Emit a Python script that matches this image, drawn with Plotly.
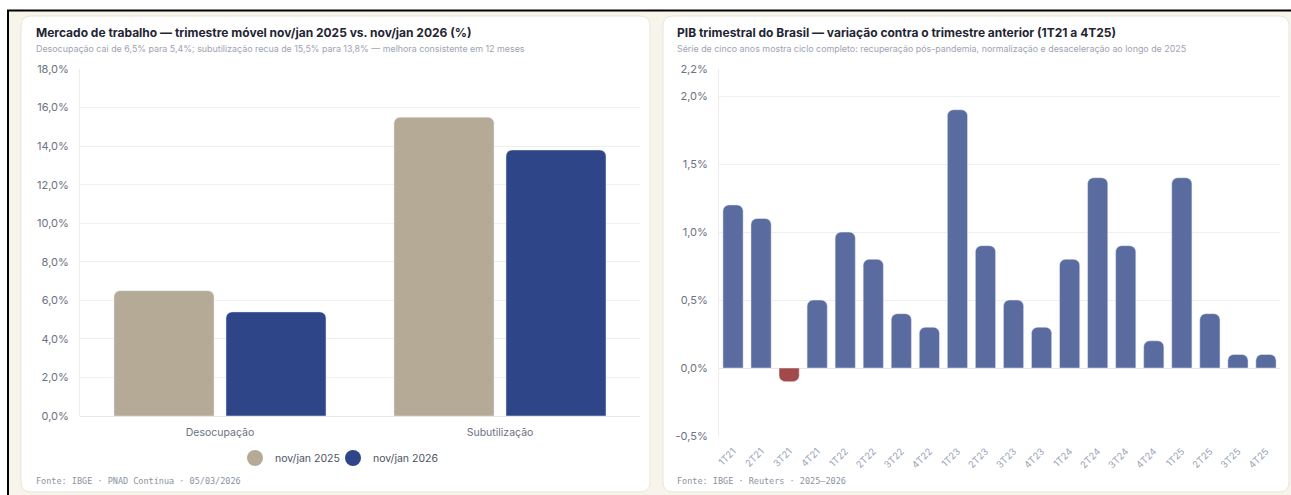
import plotly.graph_objects as go

W, H = 1291, 495

# Mercado de trabalho (%)
categorias = ["Desocupação", "Subutilização"]
nov_jan_2025 = [6.5, 15.5]
nov_jan_2026 = [5.4, 13.8]

# PIB trimestral, variação t/t-1 (%)
trimestres = ["1T21", "2T21", "3T21", "4T21", "1T22", "2T22", "3T22", "4T22",
              "1T23", "2T23", "3T23", "4T23", "1T24", "2T24", "3T24", "4T24",
              "1T25", "2T25", "3T25", "4T25"]
pib_var = [1.2, 1.1, -0.1, 0.5, 1.0, 0.8, 0.4, 0.3,
           1.9, 0.9, 0.5, 0.3, 0.8, 1.4, 0.9, 0.2,
           1.4, 0.4, 0.1, 0.1]
pib_tickvals = [-0.5, 0.0, 0.5, 1.0, 1.5, 2.0, 2.2]
pib_ticktext = ["-0,5%", "0,0%", "0,5%", "1,0%", "1,5%", "2,0%", "2,2%"]

TAN = "#b5aa96"
NAVY = "#2e4587"
NAVY_SOFT = "#5a6ba0"
RED = "#a24a4a"
CREAM = "#f7f4ec"
GRID = "#efefef"
TICK = "#6b7280"
FONT = "Inter, Roboto, sans-serif"
MONO = "DejaVu Sans Mono, monospace"


def px(x):
    """Screen x (px) to paper fraction."""
    return x / W


def py(y):
    """Screen y (px, from top) to paper fraction."""
    return 1 - y / H


def rounded_rect(x0, y0, x1, y1, r):
    return (f"M {px(x0 + r)},{py(y0)} L {px(x1 - r)},{py(y0)} "
            f"Q {px(x1)},{py(y0)} {px(x1)},{py(y0 + r)} "
            f"L {px(x1)},{py(y1 - r)} Q {px(x1)},{py(y1)} {px(x1 - r)},{py(y1)} "
            f"L {px(x0 + r)},{py(y1)} Q {px(x0)},{py(y1)} {px(x0)},{py(y1 - r)} "
            f"L {px(x0)},{py(y0 + r)} Q {px(x0)},{py(y0)} {px(x0 + r)},{py(y0)} Z")


fig = go.Figure()

fig.add_trace(go.Bar(x=categorias, y=nov_jan_2025, marker_color=TAN,
                     name="nov/jan 2025", showlegend=False,
                     xaxis="x", yaxis="y"))
fig.add_trace(go.Bar(x=categorias, y=nov_jan_2026, marker_color=NAVY,
                     name="nov/jan 2026", showlegend=False,
                     xaxis="x", yaxis="y"))
# circular legend markers, one legend box each so they sit close together
fig.add_trace(go.Scatter(x=[None], y=[None], mode="markers",
                         marker=dict(color=TAN, size=16, symbol="circle"),
                         name="nov/jan 2025", legend="legend",
                         xaxis="x", yaxis="y"))
fig.add_trace(go.Scatter(x=[None], y=[None], mode="markers",
                         marker=dict(color=NAVY, size=16, symbol="circle"),
                         name="nov/jan 2026", legend="legend2",
                         xaxis="x", yaxis="y"))

fig.add_trace(go.Bar(x=trimestres, y=pib_var, width=0.72,
                     marker_color=[RED if v < 0 else NAVY_SOFT for v in pib_var],
                     showlegend=False, xaxis="x2", yaxis="y2"))

shapes = [
    dict(type="rect", xref="paper", yref="paper", x0=px(8), x1=1, y0=0, y1=py(11),
         fillcolor=CREAM, line_width=0, layer="below"),
    dict(type="path", xref="paper", yref="paper", path=rounded_rect(21, 16, 650, 492, 10),
         fillcolor="white", line=dict(color="#ebe5d6", width=1), layer="below"),
    dict(type="path", xref="paper", yref="paper", path=rounded_rect(663, 16, 1289, 492, 10),
         fillcolor="white", line=dict(color="#ebe5d6", width=1), layer="below"),
    dict(type="line", xref="paper", yref="paper", x0=px(7), x1=1, y0=py(10.5), y1=py(10.5),
         line=dict(color="black", width=2), layer="above"),
    dict(type="line", xref="paper", yref="paper", x0=px(8), x1=px(8), y0=0, y1=py(10),
         line=dict(color="black", width=2), layer="above"),
]

annotations = [
    dict(text="<b>Mercado de trabalho — trimestre móvel nov/jan 2025 vs. nov/jan 2026 (%)</b>",
         x=px(34), y=py(33), xanchor="left", yanchor="middle",
         font=dict(size=12, color="#1f2533", family=FONT)),
    dict(text="Desocupação cai de 6,5% para 5,4%; subutilização recua de 15,5% para 13,8% — melhora consistente em 12 meses",
         x=px(34), y=py(49), xanchor="left", yanchor="middle",
         font=dict(size=8.9, color="#9ea4b0", family=FONT)),
    dict(text="Fonte: IBGE · PNAD Contínua · 05/03/2026",
         x=px(34), y=py(481), xanchor="left", yanchor="middle",
         font=dict(size=8.5, color="#8c92a0", family=MONO)),
    dict(text="<b>PIB trimestral do Brasil — variação contra o trimestre anterior (1T21 a 4T25)</b>",
         x=px(675), y=py(33), xanchor="left", yanchor="middle",
         font=dict(size=12, color="#1f2533", family=FONT)),
    dict(text="Série de cinco anos mostra ciclo completo: recuperação pós-pandemia, normalização e desaceleração ao longo de 2025",
         x=px(675), y=py(49), xanchor="left", yanchor="middle",
         font=dict(size=8.9, color="#9ea4b0", family=FONT)),
    dict(text="Fonte: IBGE · Reuters · 2025–2026",
         x=px(675), y=py(481), xanchor="left", yanchor="middle",
         font=dict(size=8.5, color="#8c92a0", family=MONO)),
]
for a in annotations:
    a.update(xref="paper", yref="paper", showarrow=False)

legend_style = dict(orientation="h", yanchor="middle", y=py(458), xanchor="left",
                    bgcolor="rgba(0,0,0,0)", font=dict(size=10.5, color="#4b5363"),
                    itemwidth=30)

fig.update_layout(
    width=W, height=H,
    margin=dict(l=0, r=0, t=0, b=0, autoexpand=False),
    paper_bgcolor="white",
    plot_bgcolor="rgba(0,0,0,0)",
    separators=",.",
    font=dict(family=FONT, color=TICK, size=11),
    barmode="group",
    bargap=0.2,
    bargroupgap=0.107,
    barcornerradius=6,
    shapes=shapes,
    annotations=annotations,
    showlegend=True,
    legend=dict(legend_style, x=px(235)),
    legend2=dict(legend_style, x=px(333)),
    xaxis=dict(domain=[px(80), px(640)], anchor="y", showgrid=False,
               showline=False, ticks="", tickfont=dict(size=10.5, color=TICK),
               ticklabelstandoff=8),
    yaxis=dict(domain=[py(416), py(69)], anchor="x", range=[0, 18], dtick=2,
               tickformat=".1f", ticksuffix="%", gridcolor=GRID, gridwidth=1,
               zeroline=True, zerolinecolor="#e6e6e6", zerolinewidth=1,
               showline=True, linecolor="#ededed", linewidth=1,
               ticks="outside", ticklen=8, tickcolor="white",
               tickfont=dict(size=11, color=TICK)),
    xaxis2=dict(domain=[px(719), px(1280)], anchor="y2", showgrid=False,
                showline=False, ticks="", tickangle=-45, ticklabelstandoff=7,
                tickfont=dict(size=9.5, color="#9aa3b8")),
    yaxis2=dict(domain=[py(436), py(69)], anchor="x2", range=[-0.5, 2.2],
                tickmode="array", tickvals=pib_tickvals, ticktext=pib_ticktext,
                gridcolor=GRID, gridwidth=1, zeroline=True, zerolinecolor="#e6e6e6",
                zerolinewidth=1, showline=True, linecolor="#ededed", linewidth=1,
                ticks="outside", ticklen=8, tickcolor="white",
                tickfont=dict(size=11, color=TICK)),
)

fig.write_html("out.html")
